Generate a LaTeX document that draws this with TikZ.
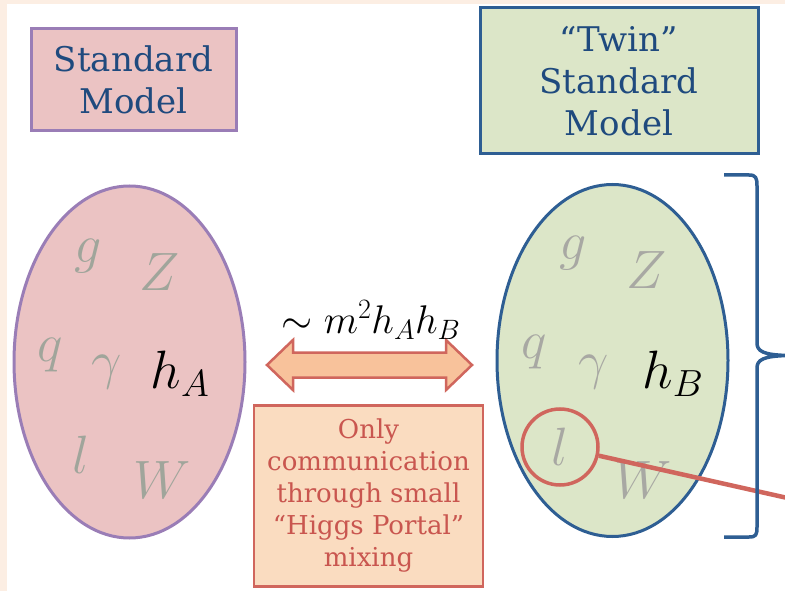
\documentclass[tikz,border=0pt]{standalone}
\usepackage{fix-cm}
\usepackage[no-math]{fontspec}
\setmainfont{DejaVu Serif}
\usetikzlibrary{calc}
\usetikzlibrary{shapes.geometric}

\definecolor{framepeach}{HTML}{FCEEE3}
\definecolor{smpink}{HTML}{EBC3C3}
\definecolor{smpurple}{HTML}{9A7DB6}
\definecolor{twingreen}{HTML}{DCE6C8}
\definecolor{twinblue}{HTML}{2E5E93}
\definecolor{titleblue}{HTML}{1F4A7E}
\definecolor{ghostA}{HTML}{A0A59B}
\definecolor{ghostB}{HTML}{A8A8A3}
\definecolor{portalred}{HTML}{D0665D}
\definecolor{portalfill}{HTML}{F8C29B}
\definecolor{notefill}{HTML}{FADCC0}
\definecolor{notered}{HTML}{C9564F}

\tikzset{
  modelbox/.style={draw, line width=3pt, align=center, inner sep=0pt,
    text=titleblue, font=\fontsize{34}{42}\selectfont},
  sector/.style={ellipse, draw, line width=3pt, inner sep=0pt,
    minimum width=231pt, minimum height=352pt},
  particle/.style={inner sep=0pt, font=\fontsize{54}{54}\selectfont},
}

\begin{document}
\begin{tikzpicture}[x=1pt,y=-1pt]

% page frame
\fill[framepeach] (0,0) rectangle (785,591);
\fill[white] (7,4) rectangle (785,591);
\useasboundingbox (0,0) rectangle (785,591);

% the two sectors
\node[modelbox, fill=smpink, draw=smpurple, minimum width=205pt, minimum height=102pt] (smbox) at (133.5,80) {Standard\\Model};
\node[modelbox, fill=twingreen, draw=twinblue, minimum width=278pt, minimum height=146pt] (twinbox) at (619,81) {“Twin”\\Standard\\Model};

\node[sector, fill=smpink, draw=smpurple] (sectorA) at (129.5,362) {};
\node[sector, fill=twingreen, draw=twinblue] (sectorB) at (612.5,360.5) {};

% particle content, sector A
\node[particle, text=ghostA] (gA) at (88,256) {$g$};
\node[particle, text=ghostA] (ZA) at (160,272) {$Z$};
\node[particle, text=ghostA] (qA) at (50,355) {$q$};
\node[particle, text=ghostA] (gammaA) at (107,372) {$\gamma$};
\node[particle] (hA) at (180,374) {$h_A$};
\node[particle, text=ghostA] (lA) at (81,455) {$l$};
\node[particle, text=ghostA] (WA) at (162,480) {$W$};

% particle content, sector B
\node[particle, text=ghostB] (gB) at (573,253) {$g$};
\node[particle, text=ghostB] (ZB) at (647,270) {$Z$};
\node[particle, text=ghostB] (qB) at (534,352) {$q$};
\node[particle, text=ghostB] (gammaB) at (594,372) {$\gamma$};
\node[particle] (hB) at (673,374) {$h_B$};
\node[particle, text=ghostB] (lB) at (560,447) {$l$};
\node[particle, text=ghostB] (WB) at (643,480) {$W$};

% portal between the sectors: fat two-headed arrow
\coordinate (portal) at (369.5,365);
\filldraw[draw=portalred, fill=portalfill, line width=2.5pt, line join=miter]
  ($(portal)+(-102.5,0)$) -- ++(26,-25) -- ++(0,12.5) -- ($(portal)+(76.5,-12.5)$)
  -- ++(0,-12.5) -- ($(portal)+(102.5,0)$) -- ++(-26,25) -- ++(0,-12.5)
  -- ($(portal)+(-76.5,12.5)$) -- ++(0,12.5) -- cycle;
\node[inner sep=0pt, font=\fontsize{40}{40}\selectfont] (mixing) at (371,320) {$\sim m^2 h_A h_B$};

\node[draw=portalred, fill=notefill, line width=2.5pt, inner sep=0pt, align=center,
  minimum width=229pt, minimum height=181pt, text=notered,
  font=\fontsize{26}{32}\selectfont] (note) at (368.5,496)
  {Only\\communication\\through small\\“Higgs Portal”\\mixing};

% lepton callout
\node[circle, draw=portalred, line width=3.5pt, minimum size=76pt, inner sep=0pt] (lzoom) at (lB) {};
\coordinate (offpage) at (792,499);
\draw[portalred, line width=4.5pt] (lzoom) -- (offpage);

% brace over the twin sector
\draw[twinblue, line width=3.5pt, line join=round]
  (724,175) -- (749,175) .. controls (756,175) and (757,178) .. (757,186)
  -- (757,343) .. controls (757,351) and (763,355) .. (788,355.5)
  .. controls (763,356) and (757,360) .. (757,368)
  -- (757,527) .. controls (757,535) and (756,537) .. (749,537) -- (724,537);

\end{tikzpicture}
\end{document}
